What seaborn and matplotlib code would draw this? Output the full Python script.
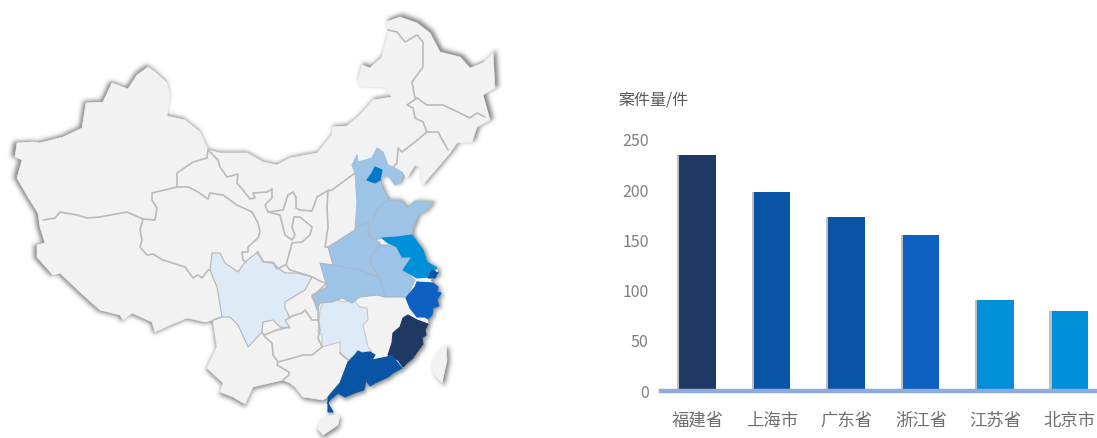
import numpy as np
import matplotlib
matplotlib.use("Agg")
import matplotlib.pyplot as plt
from matplotlib.patches import Polygon
from matplotlib.transforms import Affine2D
import matplotlib.patheffects as pe
import seaborn as sns

# bar chart data
provinces = ['福建省', '上海市', '广东省', '浙江省', '江苏省', '北京市']
cases = [235, 198, 173, 155, 91, 80]
bar_colors = ['#1F3864', '#0A54A5', '#0A54A5', '#0B60C0', '#0090DA', '#0090DA']
y_ticks = [0, 50, 100, 150, 200, 250]

# map outlines (pixel x, y)
china = [(148,67),(155,72),(167,83),(170,95),(167,116),(185,120),(200,132),(208,150),(220,153),(247,153),
         (263,162),(277,165),(290,158),(317,153),(332,135),(332,127),(347,126),(360,115),(373,100),(392,97),
         (383,87),(360,87),(358,80),(362,65),(370,68),(382,57),(388,33),(386,22),(400,17),(417,23),(430,33),
         (440,52),(460,57),(470,68),(483,63),(493,53),(495,88),(483,95),(490,120),(477,127),(472,142),(457,143),
         (450,153),(427,180),(422,186),(420,167),(415,165),(407,178),(403,173),(400,183),(395,185),(390,178),
         (387,175),(379,180),(383,190),(388,200),(400,200),(407,208),(415,201),(433,202),(427,210),(418,215),
         (412,230),(412,235),(423,250),(427,262),(437,268),(438,275),(430,280),(433,283),(438,287),(437,292),
         (441,293),(437,300),(439,306),(433,308),(432,315),(428,319),(428,324),(425,330),(426,335),(422,338),
         (423,344),(417,352),(413,358),(407,363),(402,368),(393,373),(388,377),(375,383),(370,386),(366,380),
         (364,390),(357,392),(345,397),(338,393),(330,400),(328,403),(333,412),(328,412),(328,397),(323,400),
         (303,397),(295,387),(290,383),(283,380),(270,383),(253,387),(245,404),(233,397),(220,392),(223,383),
         (207,368),(217,347),(213,320),(205,322),(187,318),(170,325),(155,332),(152,322),(132,313),(123,320),
         (120,315),(100,310),(80,292),(60,273),(53,275),(37,257),(37,245),(45,243),(40,227),(38,213),(28,197),
         (17,178),(22,160),(15,157),(17,143),(33,142),(40,143),(63,137),(82,128),(86,103),(103,102),(112,83),
         (128,89),(137,75)]
taiwan = [(446,345),(447,360),(442,383),(433,373),(432,362),(437,352)]
hainan = [(340,415),(338,425),(323,435),(317,428),(322,418),(333,415)]

sichuan = [(212,253),(220,253),(225,263),(238,272),(245,262),(258,252),(263,262),(273,262),(278,268),(285,273),
           (297,273),(312,277),(305,290),(285,302),(285,308),(290,318),(285,320),(290,328),(280,327),(273,320),
           (263,322),(262,332),(248,347),(238,325),(230,317),(222,317),(217,287),(210,270)]
jiangxi = [(323,303),(332,298),(343,302),(353,300),(360,307),(367,308),(368,320),(363,325),(368,347),(372,352),
           (358,352),(348,360),(340,353),(340,342),(322,347),(322,335),(318,332),(320,310)]
hebei = [(352,165),(357,155),(358,162),(372,158),(377,148),(383,152),(388,165),(395,168),(403,173),(400,183),
         (395,185),(390,178),(387,175),(379,180),(383,190),(388,200),(378,208),(370,222),(360,225),(355,230),
         (357,203),(355,173)]
shandong = [(388,200),(400,200),(407,208),(415,201),(433,202),(427,210),(418,215),(412,230),(412,235),(397,237),
            (382,238),(375,240),(368,235),(372,220),(378,208)]
henan = [(328,247),(355,230),(360,225),(370,222),(368,235),(380,243),(383,248),(372,255),(370,263),(380,272),
         (380,278),(360,270),(333,265)]
hubei = [(312,295),(327,287),(320,263),(333,265),(360,270),(380,278),(385,297),(377,295),(360,297),(352,303),
         (342,298),(332,302),(320,303),(317,310)]
anhui = [(380,245),(388,245),(397,248),(402,258),(412,257),(403,270),(415,280),(407,297),(385,297),(380,278),
         (370,263),(372,255)]
jiangsu = [(382,238),(388,243),(397,247),(402,257),(412,257),(403,270),(417,278),(428,277),(437,268),(427,262),
           (423,250),(412,235),(397,237)]
beijing = [(375,167),(382,170),(380,180),(375,183),(367,180),(372,173)]
shanghai = [(432,270),(438,273),(435,278),(428,278)]
zhejiang = [(417,282),(433,283),(438,287),(437,292),(441,293),(437,300),(439,306),(433,308),(432,315),(428,319),
            (425,317),(417,317),(410,308),(406,298),(415,287)]
fujian = [(408,315),(417,320),(428,324),(425,330),(426,335),(422,338),(423,344),(417,352),(413,358),(407,363),
          (403,367),(398,360),(388,355),(392,343),(393,333),(400,327),(403,318)]
guangdong = [(348,362),(355,355),(358,351),(362,353),(370,352),(375,355),(372,360),(387,357),(392,355),(397,362),
             (402,368),(393,373),(388,377),(375,383),(370,386),(366,380),(364,390),(357,392),(345,397),(338,393),
             (330,400),(328,403),(333,412),(328,412),(328,397),(340,383)]

# shape, fill, edge
regions = [(sichuan, '#DEEAF6', '#B4B4B4'), (jiangxi, '#DEEAF6', '#C8C8C8'), (hebei, '#9DC3E6', '#9DC3E6'),
           (shandong, '#9DC3E6', '#A8B8C8'), (henan, '#9DC3E6', '#A8B8C8'), (hubei, '#9DC3E6', '#A8B8C8'),
           (anhui, '#9DC3E6', '#A8B8C8'), (jiangsu, '#0090DA', '#0090DA'), (beijing, '#0078C8', '#0078C8'),
           (zhejiang, '#0B60C0', '#0B60C0'), (fujian, '#1F3864', '#1F3864'), (guangdong, '#0A54A5', '#0A54A5'),
           (shanghai, '#0A54A5', '#0A54A5')]

# province borders between the grey provinces
borders = [
    [(43,220),(55,218),(60,212),(77,215),(87,218),(100,217),(127,212),(143,219),(155,220),(157,208),(152,200),(152,193),(177,187)],
    [(208,150),(207,158),(193,162),(177,173),(177,187),(188,187),(198,192),(208,199),(210,193),(223,195),(237,205),(252,212),
     (258,223),(260,232),(258,238),(248,247),(248,252),(242,252),(243,260),(246,262)],
    [(143,219),(140,230),(142,240),(140,247),(147,255),(153,254),(163,260),(185,267),(193,278),(198,275),(202,278),(208,270),(210,270)],
    [(208,150),(218,160),(220,167),(227,177),(238,174),(237,183),(243,190),(250,199),(255,198),(253,193),(267,192),(272,189),
     (272,198),(265,205),(268,212),(280,215),(283,227),(285,235),(292,240),(295,235),(292,227),(294,217),(300,217),(312,227),
     (310,235),(302,242),(292,243),(288,258),(286,265),(290,270),(310,276)],
    [(268,212),(283,210),(288,195),(293,192),(296,197),(296,208),(300,210),(312,211),(317,197),(327,191),(332,190),(355,173)],
    [(257,252),(264,262),(273,263),(277,269),(285,265)],
    [(328,190),(327,207),(328,227),(325,247),(328,247)],
    [(312,277),(322,282),(327,283),(312,297),(318,307),(318,320),(312,320),(305,310),(302,313),(295,315),(288,318)],
    [(318,320),(320,330),(318,338),(322,347)],
    [(264,335),(277,330),(289,327)],
    [(262,332),(265,337),(272,343),(273,355),(278,362),(293,358),(303,355),(312,355),(322,347)],
    [(278,362),(277,365),(289,372),(289,375),(283,380)],
    [(340,353),(348,360)],
    [(213,320),(222,317)],
    [(388,30),(397,32),(405,42),(417,35),(423,42),(423,67),(412,82),(415,98),(417,98),(427,105),(443,105),(460,113),(470,118),(477,113),(485,117)],
    [(417,98),(407,105),(413,108),(415,118),(423,122),(427,132),(438,132),(448,150)],
    [(427,132),(415,142),(402,152),(398,148),(397,163),(393,167)],
]

sns.set_theme(style='white')
plt.rcParams['font.family'] = ['Noto Sans CJK SC', 'DejaVu Sans']


def blurred_shadow():
    # draw the outline scaled up a little on a scratch figure, then blur it
    tmp = plt.figure(figsize=(10.97, 4.38), dpi=100)
    tmpax = tmp.add_axes([0, 0, 1, 1])
    tmpax.set_xlim(0, 1097)
    tmpax.set_ylim(438, 0)
    tmpax.axis('off')
    grow = Affine2D().translate(-255, -225).scale(1.014).translate(255, 225) + tmpax.transData
    for shape in [china, taiwan, hainan]:
        tmpax.add_patch(Polygon(shape, closed=True, fc='k', ec='k', lw=0.5, transform=grow))
    tmp.canvas.draw()
    mask = 1 - np.asarray(tmp.canvas.buffer_rgba())[:, :, 0] / 255
    plt.close(tmp)
    kernel = np.exp(-np.arange(-7, 8) ** 2 / (2 * 2.2 ** 2))
    kernel = kernel / kernel.sum()
    mask = np.apply_along_axis(np.convolve, 0, mask, kernel, mode='same')
    mask = np.apply_along_axis(np.convolve, 1, mask, kernel, mode='same')
    return mask


fig = plt.figure(figsize=(10.97, 4.38), dpi=100)

# map axes in pixel coordinates
mapax = fig.add_axes([0, 0, 1, 1])

shadow = np.zeros((438, 1097, 4))
shadow[:, :, :3] = 0.35
shadow[:, :, 3] = blurred_shadow() * 0.8
mapax.imshow(shadow, extent=(0, 1097, 438, 0), aspect='auto', interpolation='bilinear')

for shape in [china, taiwan, hainan]:
    mapax.add_patch(Polygon(shape, closed=True, fc='#F2F2F2', ec='#F2F2F2', lw=0.5))

for line in borders:
    xs = [p[0] for p in line]
    ys = [p[1] for p in line]
    mapax.plot(xs, ys, color='#BABABA', lw=1.2, solid_joinstyle='round')

for shape, color, edge in regions:
    mapax.add_patch(Polygon(shape, closed=True, fc=color, ec=edge, lw=0.8, joinstyle='round'))

mapax.set_xlim(0, 1097)
mapax.set_ylim(438, 0)
mapax.axis('off')

# bar chart; last bar slot runs past the right edge of the picture
left = 660.5 / 1097
width = (1107 - 660.5) / 1097
bottom = (438 - 391) / 438
height = (391 - 140) / 438
ax = fig.add_axes([left, bottom, width, height], facecolor='none')
sns.barplot(x=provinces, y=cases, hue=provinces, palette=bar_colors, legend=False, width=0.49, saturation=1,
            linewidth=0, ax=ax)
for bar in ax.patches:
    bar.set_path_effects([pe.SimplePatchShadow(offset=(-1.5, 0), shadow_rgbFace='#606060', alpha=0.4), pe.Normal()])

ax.set_ylim(0, 250)
ax.set_yticks(y_ticks)
ax.set_xlim(-0.5, 5.5)
ax.set_xlabel('')
ax.set_ylabel('')
ax.tick_params(axis='y', length=0, pad=8.5, labelsize=11.5, labelcolor='#7F7F7F')
ax.tick_params(axis='x', length=0, pad=15, labelsize=12.5, labelcolor='#6E6E6E')
for side in ['top', 'left', 'right']:
    ax.spines[side].set_visible(False)
ax.spines['bottom'].set_color('#8FAADC')
ax.spines['bottom'].set_linewidth(3.2)

fig.text(618 / 1097, 1 - 100 / 438, '案件量/件', fontsize=11.5, color='#595959', ha='left', va='center')

fig.savefig('out.png', dpi=100)
